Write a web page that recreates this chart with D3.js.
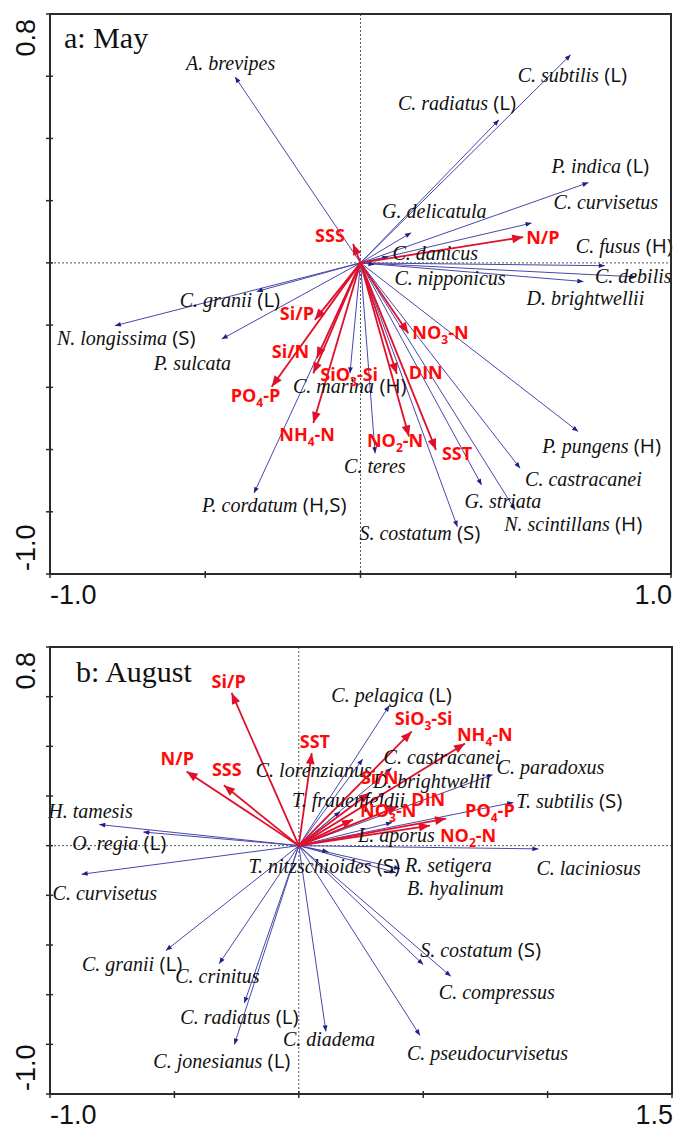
<!DOCTYPE html>
<html>
<head>
<meta charset="utf-8">
<script src="https://cdn.jsdelivr.net/npm/d3@7"></script>
<style>
  body { margin: 0; background: #fff; }
  svg { display: block; }
</style>
</head>
<body>
<svg id="chart" width="673" height="1129"></svg>
<script>
// ---- Panel a: May — species scores (RDA axis 1, axis 2) ----
const maySpecies = ["A. brevipes","C. subtilis","C. radiatus","P. indica","C. curvisetus","G. delicatula","C. danicus","C. fusus","C. nipponicus","C. debilis","D. brightwellii","C. granii","N. longissima","P. sulcata","C. marina","P. cordatum","C. teres","P. pungens","C. castracanei","G. striata","N. scintillans","S. costatum"];
const mayTags = ["","L","L","L","","","","H","","","","L","S","","H","H,S","","H","","","H","S"];
const mayAxis1 = [-0.404,0.677,0.446,0.734,0.551,0.163,0.090,0.787,0.045,0.887,0.718,-0.334,-0.791,-0.447,-0.034,-0.343,0.047,0.701,0.514,0.390,0.498,0.312];
const mayAxis2 = [0.598,0.669,0.460,0.258,0.128,0.097,0.020,-0.009,-0.005,-0.045,-0.060,-0.092,-0.202,-0.245,-0.355,-0.740,-0.612,-0.542,-0.660,-0.714,-0.794,-0.848];

// ---- Panel a: May — environmental variables ----
const mayEnv = ["SSS","N/P","Si/P","Si/N","PO4-P","NH4-N","SiO3-Si","NO3-N","DIN","NO2-N","SST"];
const mayEnv1 = [-0.024,0.524,-0.147,-0.141,-0.286,-0.152,-0.152,0.154,0.117,0.156,0.243];
const mayEnv2 = [0.061,0.083,-0.183,-0.306,-0.398,-0.515,-0.355,-0.226,-0.357,-0.558,-0.601];

// ---- Panel b: August — species scores ----
const augSpecies = ["C. pelagica","C. lorenzianus","C. castracanei","C. paradoxus","D. brightwellii","T. frauenfeldii","T. subtilis","L. aporus","C. laciniosus","H. tamesis","O. regia","C. curvisetus","T. nitzschioides","R. setigera","B. hyalinum","S. costatum","C. compressus","C. pseudocurvisetus","C. diadema","C. jonesianus","C. radiatus","C. crinitus","C. granii"];
const augTags = ["L","","","","","","S","","","","L","","S","","","S","","","","L","L","","L"];
const augAxis1 = [0.364,0.257,0.373,0.779,0.346,0.166,0.862,0.375,0.963,-0.802,-0.625,-0.873,0.119,0.407,0.391,0.500,0.611,0.487,0.109,-0.259,-0.219,-0.320,-0.534];
const augAxis2 = [0.564,0.349,0.313,0.286,0.213,0.137,0.174,0.093,-0.013,0.085,0.055,-0.115,-0.025,-0.093,-0.109,-0.479,-0.526,-0.764,-0.748,-0.801,-0.634,-0.475,-0.422];

// ---- Panel b: August — environmental variables ----
const augEnv = ["Si/P","SST","N/P","SSS","SiO3-Si","NH4-N","Si/N","DIN","NO3-N","PO4-P","NO2-N"];
const augEnv1 = [-0.270,0.052,-0.451,-0.301,0.454,0.668,0.286,0.400,0.218,0.592,0.527];
const augEnv2 = [0.615,0.373,0.299,0.243,0.460,0.411,0.213,0.158,0.105,0.109,0.081];

// ---- Axis ticks ----
const mayXTicks = [-1, -0.5, 0, 0.5, 1];
const augXTicks = [-1, -0.5, 0, 0.5, 1, 1.5];
const yTicks = [-1, -0.8, -0.6, -0.4, -0.2, 0, 0.2, 0.4, 0.6, 0.8];

// ---- Label nudges (pixels from arrow tip to text start/baseline) ----
const maySpNudge = [[-49,-7],[-53,27],[-101,-10],[-37,-10],[22,-14],[-29,-15],[4,3],[-29,-13],[20,21],[-41,6],[-57,23],[-77,15],[-58,19],[-68,31],[-57,20],[-52,19],[-31,20],[-36,21],[5,18],[-17,23],[-11,21],[-98,13]];
const mayEnvNudge = [[-38,-2],[3,7],[-35,0],[-45,0],[-41,15],[-34,18],[7,8],[4,6],[12,5],[-42,11],[6,10]];
const augSpNudge = [[-58,-4],[-107,18],[-8,-4],[4,-1],[-12,-5],[-48,-5],[3,6],[-34,19],[-2,26],[-51,-7],[-71,18],[-29,26],[-80,21],[5,3],[11,22],[-3,-8],[-12,23],[-13,25],[-43,15],[-81,23],[-64,21],[-44,19],[-84,21]];
const augEnvNudge = [[-20,-5],[-12,-5],[-26,-6],[-12,-9],[-17,-6],[-8,-3],[-9,-9],[13,0],[7,-3],[19,-2],[10,16]];

const svg = d3.select("#chart");

const SERIF = "'Liberation Serif','Times New Roman',serif";
const SANS = "'Open Sans','Liberation Sans',sans-serif";
const ARIAL = "'Liberation Sans',Arial,sans-serif";
const BLUE_LINE = "#4848aa";
const BLUE_HEAD = "#1f1f85";
const RED_LINE = "#e0102c";
const RED_TEXT = "#ff0a0a";

function headPath(x0, y0, x1, y1, len, half) {
  const dx = x1 - x0, dy = y1 - y0;
  const d = Math.hypot(dx, dy) || 1;
  const ux = dx / d, uy = dy / d;
  const bx = x1 - ux * len, by = y1 - uy * len;
  const px = -uy * half, py = ux * half;
  return `M${x1},${y1}L${bx + px},${by + py}L${bx - px},${by - py}Z`;
}

function envLabel(sel, name) {
  const m = name.match(/^([A-Za-z]+)(\d)(-.*)$/);
  if (m) {
    sel.append("tspan").text(m[1]);
    sel.append("tspan").attr("font-size", 12).attr("dy", 5).text(m[2]);
    sel.append("tspan").attr("dy", -5).text(m[3]);
  } else {
    sel.text(name);
  }
}

// tick labels use a plain hyphen for negatives
const fmt = v => d3.format(".1f")(v).replace("\u2212", "-");

function drawPanel(cfg) {
  const x = d3.scaleLinear().domain(cfg.xDomain).range([cfg.left, cfg.right]);
  const y = d3.scaleLinear().domain(cfg.yDomain).range([cfg.bottom, cfg.top]);
  const g = svg.append("g");

  // zero lines
  g.append("line").attr("x1", x(0)).attr("x2", x(0)).attr("y1", cfg.top).attr("y2", cfg.bottom)
    .attr("stroke", "#555").attr("stroke-width", 1).attr("stroke-dasharray", "2,2");
  g.append("line").attr("x1", cfg.left).attr("x2", cfg.right).attr("y1", y(0)).attr("y2", y(0))
    .attr("stroke", "#555").attr("stroke-width", 1).attr("stroke-dasharray", "2,2");

  const ox = x(0), oy = y(0);

  const sp = cfg.species.map((n, i) => ({
    name: n, tag: cfg.tags[i], a1: cfg.a1[i], a2: cfg.a2[i], nx: cfg.spNudge[i][0], ny: cfg.spNudge[i][1]
  }));
  const env = cfg.env.map((n, i) => ({
    name: n, a1: cfg.e1[i], a2: cfg.e2[i], nx: cfg.envNudge[i][0], ny: cfg.envNudge[i][1]
  }));

  // species arrows
  const spG = g.append("g");
  spG.selectAll("line").data(sp).join("line")
    .attr("x1", ox).attr("y1", oy)
    .attr("x2", d => x(d.a1)).attr("y2", d => y(d.a2))
    .attr("stroke", BLUE_LINE).attr("stroke-width", 1);
  spG.selectAll("path").data(sp).join("path")
    .attr("d", d => headPath(ox, oy, x(d.a1), y(d.a2), 6, 2.4))
    .attr("fill", BLUE_HEAD);

  // environmental arrows
  const envG = g.append("g");
  envG.selectAll("line").data(env).join("line")
    .attr("x1", ox).attr("y1", oy)
    .attr("x2", d => x(d.a1)).attr("y2", d => y(d.a2))
    .attr("stroke", RED_LINE).attr("stroke-width", 1.8);
  envG.selectAll("path").data(env).join("path")
    .attr("d", d => headPath(ox, oy, x(d.a1), y(d.a2), 11, 4.4))
    .attr("fill", RED_LINE);

  // species labels
  g.append("g").selectAll("text").data(sp).join("text")
    .attr("x", d => x(d.a1) + d.nx).attr("y", d => y(d.a2) + d.ny)
    .attr("font-size", 20).attr("fill", "#111")
    .each(function (d) {
      const t = d3.select(this);
      t.append("tspan").attr("font-family", SERIF).attr("font-style", "italic").text(d.name);
      if (d.tag) t.append("tspan").attr("font-family", SANS).attr("font-size", 20.5).text(" (" + d.tag + ")");
    });

  // environmental labels
  g.append("g").selectAll("text").data(env).join("text")
    .attr("x", d => x(d.a1) + d.nx).attr("y", d => y(d.a2) + d.ny)
    .attr("font-family", SANS).attr("font-weight", "bold").attr("font-size", 18)
    .attr("fill", RED_TEXT)
    .each(function (d) { envLabel(d3.select(this), d.name); });

  // frame
  g.append("rect").attr("x", cfg.left).attr("y", cfg.top)
    .attr("width", cfg.right - cfg.left).attr("height", cfg.bottom - cfg.top)
    .attr("fill", "none").attr("stroke", "#2b2b2b").attr("stroke-width", 2);

  // ticks crossing the left and bottom axes
  g.append("g").selectAll("line").data(yTicks).join("line")
    .attr("x1", cfg.left - 4).attr("x2", cfg.left + 3)
    .attr("y1", d => y(d)).attr("y2", d => y(d))
    .attr("stroke", "#2b2b2b").attr("stroke-width", 1.5);
  g.append("g").selectAll("line").data(cfg.xTicks).join("line")
    .attr("y1", cfg.bottom - 3).attr("y2", cfg.bottom + 4)
    .attr("x1", d => x(d)).attr("x2", d => x(d))
    .attr("stroke", "#2b2b2b").attr("stroke-width", 1.5);

  // end tick labels
  const xd = cfg.xDomain, yd = cfg.yDomain;
  g.append("text").attr("x", x(xd[0])).attr("y", cfg.bottom + 30)
    .attr("font-family", ARIAL).attr("font-size", 27).attr("fill", "#111")
    .text(fmt(xd[0]));
  g.append("text").attr("x", x(xd[1]) + 1).attr("y", cfg.bottom + 30).attr("text-anchor", "end")
    .attr("font-family", ARIAL).attr("font-size", 27).attr("fill", "#111")
    .text(fmt(xd[1]));
  g.append("text").attr("transform", `translate(35,${y(yd[1]) + 5}) rotate(-90)`)
    .attr("text-anchor", "end")
    .attr("font-family", ARIAL).attr("font-size", 27).attr("fill", "#111")
    .text(fmt(yd[1]));
  g.append("text").attr("transform", `translate(35,${y(yd[0]) - 3}) rotate(-90)`)
    .attr("font-family", ARIAL).attr("font-size", 27).attr("fill", "#111")
    .text(fmt(yd[0]));

  // panel title
  g.append("text").attr("x", cfg.left + cfg.titleDx).attr("y", cfg.top + cfg.titleDy)
    .attr("font-family", SERIF).attr("font-size", 30).attr("fill", "#111")
    .text(cfg.title);
}

drawPanel({
  title: "a: May", titleDx: 14, titleDy: 34,
  left: 50, right: 671, top: 14, bottom: 574,
  xDomain: [-1, 1], yDomain: [-1, 0.8], xTicks: mayXTicks,
  species: maySpecies, tags: mayTags, a1: mayAxis1, a2: mayAxis2, spNudge: maySpNudge,
  env: mayEnv, e1: mayEnv1, e2: mayEnv2, envNudge: mayEnvNudge
});

drawPanel({
  title: "b: August", titleDx: 26, titleDy: 35,
  left: 50, right: 672, top: 647, bottom: 1094,
  xDomain: [-1, 1.5], yDomain: [-1, 0.8], xTicks: augXTicks,
  species: augSpecies, tags: augTags, a1: augAxis1, a2: augAxis2, spNudge: augSpNudge,
  env: augEnv, e1: augEnv1, e2: augEnv2, envNudge: augEnvNudge
});
</script>
</body>
</html>
